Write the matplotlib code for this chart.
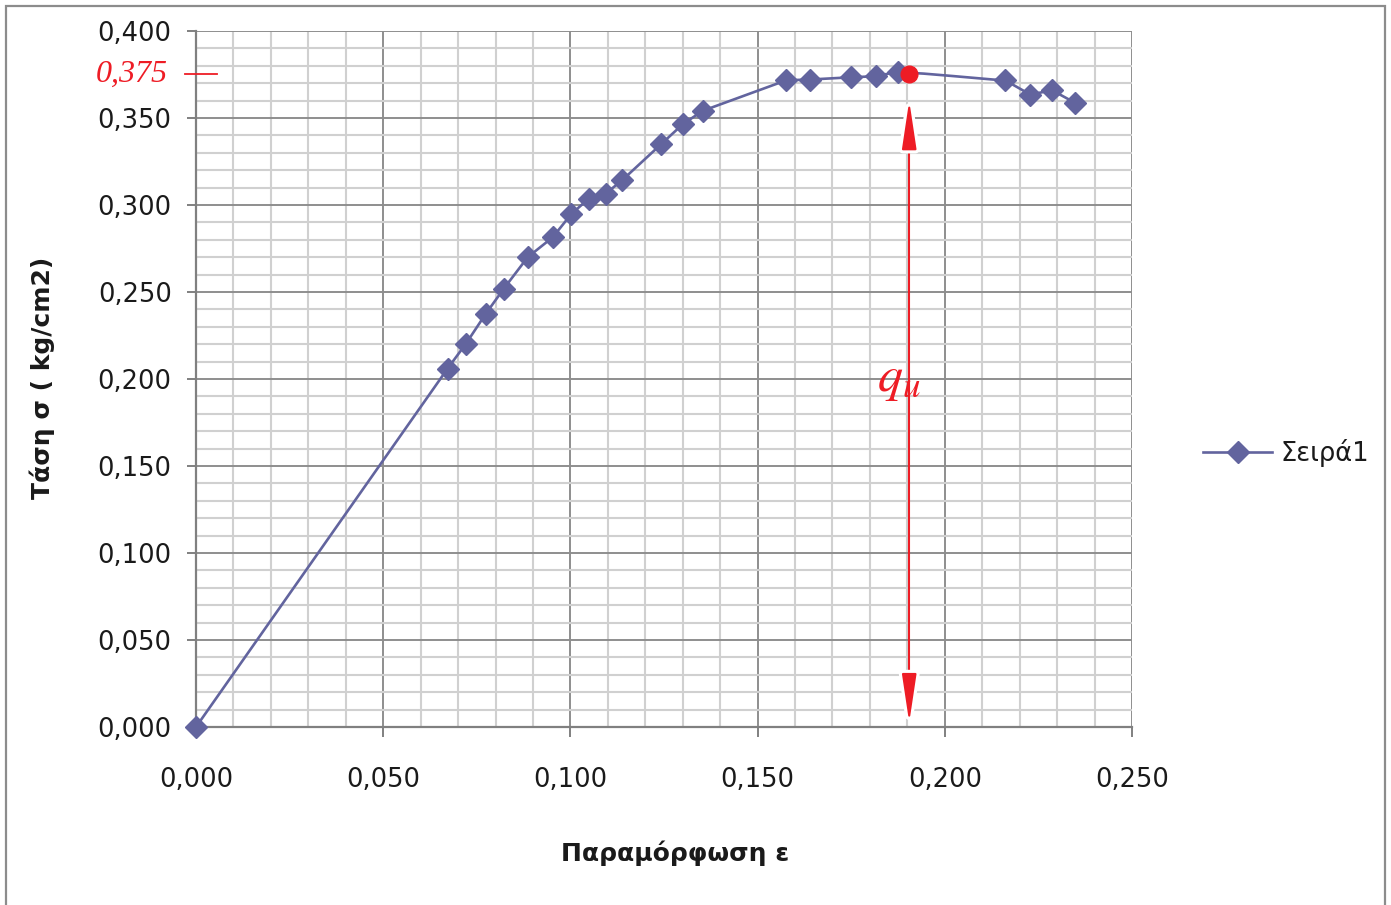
import matplotlib
matplotlib.use("Agg")
import matplotlib.pyplot as plt
import matplotlib.patheffects as pe
from matplotlib.patches import Rectangle
from matplotlib.ticker import MultipleLocator, FuncFormatter

# Strain (ε) and stress (σ) readings of the unconfined compression test
strain = [0.000, 0.0672, 0.0721, 0.0774, 0.0822, 0.0886, 0.0953, 0.1002,
          0.1049, 0.1094, 0.1138, 0.1242, 0.1300, 0.1353, 0.1577, 0.1640,
          0.1749, 0.1816, 0.1874, 0.1905, 0.1944, 0.2022, 0.2129, 0.2161,
          0.2228, 0.2287, 0.2348]
stress = [0.000, 0.2060, 0.2203, 0.2375, 0.2519, 0.2700, 0.2815, 0.2947,
          0.3037, 0.3065, 0.3142, 0.3349, 0.3464, 0.3541, 0.3717, 0.3721,
          0.3734, 0.3740, 0.3766, 0.3760, 0.3755, 0.3741, 0.3721, 0.3717,
          0.3635, 0.3659, 0.3587]
# readings drawn without a marker
unmarked = [19, 20, 21, 22]

# Peak (unconfined compressive strength)
qu_strain = 0.1905
qu_value = 0.375
qu_label = "0,375"

series_name = "Σειρά1"
x_title = "Παραμόρφωση ε"
y_title = "Τάση σ ( kg/cm2)"

SERIES = "#62649E"
RED = "#EE1C25"
MAJOR = "#8e8e8e"
MINOR = "#d0d0d0"
TXT = "#1a1a1a"

W, H = 1391, 905
fig = plt.figure(figsize=(W / 100, H / 100), dpi=100)
plt.rcParams["font.family"] = ["DejaVu Sans"]

# outer chart border
fig.patches.append(Rectangle((6 / W, -0.01), (1385 - 6) / W, 1 - 6 / H + 0.01,
                             transform=fig.transFigure, fill=False,
                             edgecolor="#8c8c8c", linewidth=1.6))

ax = fig.add_axes([196 / W, 1 - 727 / H, (1132 - 196) / W, (727 - 31) / H])
ax.set_xlim(0, 0.25)
ax.set_ylim(0, 0.40)

ax.xaxis.set_major_locator(MultipleLocator(0.05))
ax.xaxis.set_minor_locator(MultipleLocator(0.01))
ax.yaxis.set_major_locator(MultipleLocator(0.05))
ax.yaxis.set_minor_locator(MultipleLocator(0.01))

comma = FuncFormatter(lambda v, p: f"{v:.3f}".replace(".", ","))
ax.xaxis.set_major_formatter(comma)
ax.yaxis.set_major_formatter(comma)

ax.grid(which="minor", color=MINOR, linewidth=1.5, zorder=0)
ax.grid(which="major", color=MAJOR, linewidth=1.4, zorder=0.5)
ax.set_axisbelow(True)

for s in ("top", "right"):
    ax.spines[s].set_visible(False)
for s in ("left", "bottom"):
    ax.spines[s].set_color("#808080")
    ax.spines[s].set_linewidth(1.6)

ax.tick_params(axis="both", which="minor", length=0)
ax.tick_params(axis="x", which="major", length=7, width=1.4, color="#808080",
               direction="out", pad=22, labelsize=18.5, labelcolor=TXT)
ax.tick_params(axis="y", which="major", length=6.5, width=1.4, color="#808080",
               direction="out", pad=11, labelsize=18.5, labelcolor=TXT)

# series line, then markers only on the measured readings
marked = [i for i in range(len(strain)) if i not in unmarked]
ax.plot(strain, stress, color=SERIES, linewidth=1.9, zorder=3,
        marker="D", markersize=11.5, markevery=marked, clip_on=False,
        markeredgecolor=SERIES, markerfacecolor=SERIES, label=series_name)

# peak point
ax.plot([qu_strain], [qu_value], marker="o", markersize=12,
        color=RED, zorder=5, linestyle="none")

# qu dimension line with arrowheads
halo = [pe.withStroke(linewidth=6, foreground="white")]
head = "-|>,head_length=2.0,head_width=0.3"
ax.plot([qu_strain, qu_strain], [0.027, qu_value - 0.041], color=RED,
        linewidth=1.5, zorder=4)
ax.annotate("", xy=(qu_strain, qu_value - 0.015),
            xytext=(qu_strain, qu_value - 0.034),
            arrowprops=dict(arrowstyle=head, color=RED, lw=1.5,
                            shrinkA=0, shrinkB=0, mutation_scale=15,
                            path_effects=halo),
            zorder=4)
ax.annotate("", xy=(qu_strain, 0.0025), xytext=(qu_strain, 0.027),
            arrowprops=dict(arrowstyle=head, color=RED, lw=1.5,
                            shrinkA=0, shrinkB=0, mutation_scale=15,
                            path_effects=halo),
            zorder=4)
ax.text(qu_strain - 0.0027, 0.200, r"$q_u$", color=RED, fontsize=36,
        ha="center", va="center", math_fontfamily="stix", zorder=6)

# red value mark on the stress axis
ax.plot([-0.003, 0.0055], [qu_value, qu_value], color=RED, linewidth=1.3,
        clip_on=False, zorder=6)
ax.text(-0.0075, qu_value, qu_label, color=RED, fontsize=23, style="italic",
        family="Liberation Serif", ha="right", va="center", clip_on=False)

fig.text(675 / W, 1 - 853 / H, x_title, fontsize=18, fontweight="bold",
         ha="center", va="center", color=TXT)
fig.text(42 / W, 1 - 378 / H, y_title, fontsize=18, fontweight="bold",
         rotation=90, ha="center", va="center", color=TXT)

fig.legend(loc="center left", bbox_to_anchor=(1203 / W, 1 - 453 / H),
           frameon=False, fontsize=18.5, handlelength=2.7,
           handletextpad=0.3, borderpad=0, borderaxespad=0,
           labelcolor=TXT, markerscale=1.0)

fig.savefig("out.png", dpi=100, facecolor="white")
